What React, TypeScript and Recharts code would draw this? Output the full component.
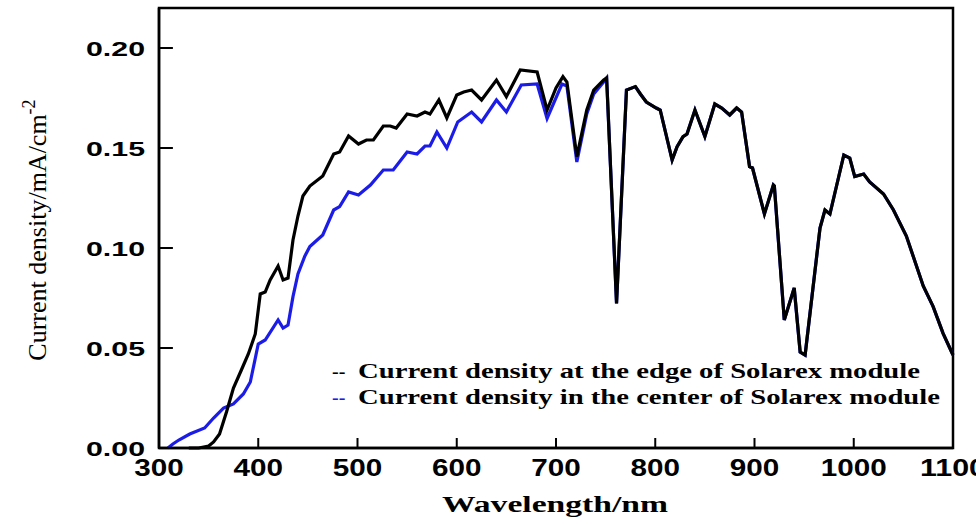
import { LineChart, Line, XAxis, YAxis, Legend, ReferenceArea, ReferenceLine } from "recharts";

// wavelength (nm) / current density (mA/cm^2)
const edgeWavelength = [
    330, 340, 350, 355, 361, 368, 375, 383, 390, 397, 402, 407, 412, 420, 425, 430, 435, 440, 445, 452,
    465, 476, 482, 491, 501, 509, 516, 526, 533, 539, 550, 560, 568, 573, 582, 590, 600, 607, 615, 625,
    640, 650, 664, 681, 691, 700, 707, 711, 721, 731, 738, 748, 751, 761, 771, 780, 785, 791, 801, 805,
    817, 822, 828, 832, 840, 850, 860, 867, 875, 882, 887, 895, 898, 910, 919, 920, 930, 940, 946, 951,
    966, 971, 976, 990, 996, 1001, 1010, 1016, 1030, 1040, 1053, 1070, 1080, 1090, 1100,
];
const edgeDensity = [
    0, 0, 0.001, 0.003, 0.007, 0.018, 0.03, 0.039, 0.047, 0.057, 0.077, 0.078, 0.084, 0.091, 0.084, 0.085, 0.104, 0.116, 0.126, 0.131,
    0.136, 0.147, 0.148, 0.156, 0.152, 0.154, 0.154, 0.161, 0.161, 0.16, 0.167, 0.166, 0.168, 0.167, 0.174, 0.165, 0.1765, 0.178, 0.179, 0.174,
    0.184, 0.1757, 0.189, 0.188, 0.169, 0.18, 0.1857, 0.183, 0.1457, 0.169, 0.179, 0.184, 0.185, 0.0723, 0.179, 0.1807, 0.177, 0.173, 0.17, 0.169,
    0.144, 0.1507, 0.1557, 0.157, 0.169, 0.1557, 0.172, 0.17, 0.1665, 0.17, 0.168, 0.1407, 0.14, 0.117, 0.1315, 0.131, 0.064, 0.08, 0.048, 0.0465,
    0.11, 0.119, 0.117, 0.1465, 0.145, 0.1357, 0.137, 0.133, 0.127, 0.119, 0.106, 0.081, 0.0707, 0.0573, 0.0465,
];

const centerWavelength = [
    309, 314, 320, 331, 346, 355, 365, 375, 385, 392, 400, 407, 420, 425, 430, 435, 440, 447, 452, 465,
    476, 482, 491, 501, 513, 526, 536, 550, 560, 568, 573, 580, 590, 601, 615, 625, 640, 650, 665, 681,
    691, 706, 711, 721, 731, 738, 748, 751, 761, 771, 780, 785, 791, 801, 805, 817, 822, 828, 832, 840,
    850, 860, 867, 875, 882, 887, 895, 898, 910, 919, 920, 930, 940, 946, 951, 966, 971, 976, 990, 996,
    1001, 1010, 1016, 1030, 1040, 1053, 1070, 1080, 1090, 1100,
];
const centerDensity = [
    0, 0.002, 0.004, 0.007, 0.01, 0.015, 0.02, 0.022, 0.027, 0.033, 0.052, 0.054, 0.064, 0.06, 0.0615, 0.0757, 0.087, 0.096, 0.1007, 0.1065,
    0.119, 0.1207, 0.128, 0.1265, 0.1315, 0.139, 0.139, 0.148, 0.147, 0.151, 0.151, 0.158, 0.15, 0.163, 0.168, 0.163, 0.174, 0.168, 0.1815, 0.182,
    0.1648, 0.182, 0.181, 0.143, 0.167, 0.177, 0.183, 0.185, 0.0723, 0.179, 0.1807, 0.177, 0.173, 0.17, 0.169, 0.144, 0.1507, 0.1557, 0.157, 0.169,
    0.1557, 0.172, 0.17, 0.1665, 0.17, 0.168, 0.1407, 0.14, 0.117, 0.1315, 0.131, 0.064, 0.08, 0.048, 0.0465, 0.11, 0.119, 0.117, 0.1465, 0.145,
    0.1357, 0.137, 0.133, 0.127, 0.119, 0.106, 0.081, 0.0707, 0.0573, 0.0465,
];

const xTicks = [300, 400, 500, 600, 700, 800, 900, 1000, 1100];
const yTicks = [0, 0.05, 0.1, 0.15, 0.2];

const edgeLabel = "Current density at the edge of Solarex module";
const centerLabel = "Current density in the center of Solarex module";

const BLUE = "#1c1ce8";
const FRAME = "#000";
const X_MIN = 300;
const X_MAX = 1100;
const Y_MAX = 0.22;

const edgeData = edgeWavelength.map((x, i) => ({ x, y: edgeDensity[i] }));
const centerData = centerWavelength.map((x, i) => ({ x, y: centerDensity[i] }));

const XTick = (props: any) => {
    const s = String(props.payload.value);
    return (
        <text
            x={props.x}
            y={props.y + 12}
            textAnchor="middle"
            dominantBaseline="central"
            fontFamily="'Liberation Sans', Arial, sans-serif"
            fontWeight="bold"
            fontSize={23}
            fill="#000"
            textLength={s.length * 16.5}
            lengthAdjust="spacingAndGlyphs"
        >
            {s}
        </text>
    );
};

const YTick = (props: any) => {
    const s = Number(props.payload.value).toFixed(2);
    return (
        <text
            x={props.x - 6}
            y={props.y}
            textAnchor="end"
            dominantBaseline="central"
            fontFamily="'Liberation Sans', Arial, sans-serif"
            fontWeight="bold"
            fontSize={21}
            fill="#000"
            textLength={59}
            lengthAdjust="spacingAndGlyphs"
        >
            {s}
        </text>
    );
};

const YTitle = (props: any) => {
    const vb = props.viewBox;
    const cx = 46;
    const cy = vb.y + vb.height / 2 + 2;
    return (
        <text
            x={cx}
            y={cy}
            transform={`rotate(-90, ${cx}, ${cy})`}
            textAnchor="middle"
            fontFamily="'Liberation Serif', 'Times New Roman', serif"
            fontSize={26}
            fill="#000"
        >
            Current density/mA/cm
            <tspan fontSize={18} dy={-11}>-2</tspan>
        </text>
    );
};

const XTitle = (props: any) => {
    const vb = props.viewBox;
    return (
        <text
            x={vb.x + vb.width / 2 - 1}
            y={vb.y + 64}
            textAnchor="middle"
            fontFamily="'Liberation Serif', 'Times New Roman', serif"
            fontWeight="bold"
            fontSize={24}
            fill="#000"
            textLength={226}
            lengthAdjust="spacingAndGlyphs"
        >
            Wavelength/nm
        </text>
    );
};

const LegendBox = () => (
    <svg width={640} height={64} style={{ display: "block" }}>
        <g fontFamily="'Liberation Serif', 'Times New Roman', serif" fontWeight="bold" fontSize={22} fill="#000">
            <text x={7} y={28} fontWeight="normal" fontSize={20}>--</text>
            <text x={33} y={28} textLength={562} lengthAdjust="spacingAndGlyphs">{edgeLabel}</text>
            <text x={7} y={54} fontWeight="normal" fontSize={20} fill={BLUE}>--</text>
            <text x={33} y={54} textLength={582} lengthAdjust="spacingAndGlyphs">{centerLabel}</text>
        </g>
    </svg>
);

export default function App() {
    return (
        <div style={{ position: "absolute", left: 0, top: 0, width: 976, height: 524, background: "#fff" }}>
            <LineChart width={976} height={524} margin={{ top: 8, right: 23, bottom: 0, left: 0 }}>
                <XAxis
                    dataKey="x"
                    type="number"
                    domain={[X_MIN, X_MAX]}
                    ticks={xTicks}
                    height={76}
                    tick={<XTick />}
                    axisLine={{ stroke: "#000", strokeWidth: 2.5 }}
                    tickLine={false}
                    label={<XTitle />}
                />
                <YAxis
                    type="number"
                    domain={[0, Y_MAX]}
                    ticks={yTicks}
                    width={159}
                    tick={<YTick />}
                    axisLine={{ stroke: "#000", strokeWidth: 2.5 }}
                    tickLine={false}
                    label={<YTitle />}
                />
                <ReferenceArea
                    x1={X_MIN}
                    x2={X_MAX}
                    y1={0}
                    y2={Y_MAX}
                    fill="#fff"
                    fillOpacity={0}
                    stroke={FRAME}
                    strokeWidth={2.5}
                />
                {/* inward tick marks */}
                {xTicks.map((t) => (
                    <ReferenceLine
                        key={"xt" + t}
                        segment={[{ x: t, y: 0 }, { x: t, y: 0.005 }]}
                        stroke={FRAME}
                        strokeWidth={2}
                    />
                ))}
                {yTicks.map((t) => (
                    <ReferenceLine
                        key={"yt" + t}
                        segment={[{ x: X_MIN, y: t }, { x: X_MIN + 14, y: t }]}
                        stroke={FRAME}
                        strokeWidth={2}
                    />
                ))}
                <Line
                    data={centerData}
                    dataKey="y"
                    type="linear"
                    stroke={BLUE}
                    strokeWidth={3.2}
                    dot={false}
                    isAnimationActive={false}
                />
                <Line
                    data={edgeData}
                    dataKey="y"
                    type="linear"
                    stroke="#000"
                    strokeWidth={3.2}
                    dot={false}
                    isAnimationActive={false}
                />
                <Legend
                    layout="vertical"
                    align="center"
                    verticalAlign="middle"
                    content={<LegendBox />}
                    wrapperStyle={{ position: "absolute", left: 325, top: 350, width: 640, height: 64 }}
                />
            </LineChart>
        </div>
    );
}
